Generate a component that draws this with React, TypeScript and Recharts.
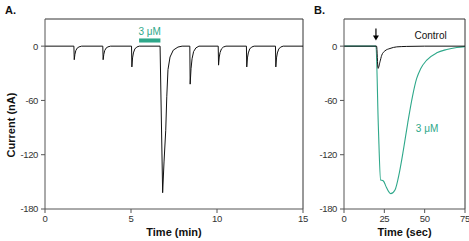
import React from 'react';
import { LineChart, Line, XAxis, YAxis, ReferenceLine, ReferenceArea, ReferenceDot, Label } from 'recharts';

// Panel A: current trace over time (min)
const timeA = [
  0, 1.68, 1.70, 1.74, 1.79, 1.87, 1.98, 2.13,
  3.36, 3.38, 3.42, 3.47, 3.55, 3.66, 3.81,
  5.03, 5.05, 5.09, 5.14, 5.22, 5.33, 5.48,
  6.69, 6.84, 6.92, 7.02, 7.08, 7.15, 7.27, 7.46, 7.73, 7.97,
  8.42, 8.44, 8.49, 8.55, 8.64, 8.77, 8.95,
  10.07, 10.09, 10.13, 10.18, 10.26, 10.37, 10.52,
  11.71, 11.73, 11.77, 11.82, 11.90, 12.01, 12.16,
  13.40, 13.42, 13.46, 13.51, 13.59, 13.70, 13.85,
  15,
];
const currentA = [
  0, 0, -15, -9, -5, -2.2, -0.8, 0,
  0, -15, -9, -5, -2.2, -0.8, 0,
  0, -23, -13, -7.5, -3.2, -1, 0,
  0, -162, -128, -93, -56, -26, -12, -4.4, -1, 0,
  0, -42, -25, -14, -6, -2, 0,
  0, -21, -12, -7, -3, -1, 0,
  0, -23, -13, -7.5, -3.2, -1, 0,
  0, -23, -13, -7.5, -3.2, -1, 0,
  0,
];
const ticksTimeA = [0, 5, 10, 15];
const ticksCurrent = [-180, -120, -60, 0];
const drugBar = { start: 5.47, end: 6.71, low: 4, high: 8.5, label: '3 μM' };

// Panel B: current trace over time (sec)
const timeControl = [0, 20.2, 21.1, 22.3, 23.4, 25.4, 28.5, 32.7, 38.9, 50, 75];
const currentControl = [0, 0, -24.6, -17.3, -10, -5.2, -2.6, -0.8, -0.3, 0, 0];
const timeDrug = [0, 19.8, 21.3, 22.7, 24.0, 24.8, 26.0, 29.0, 31.6, 34.3, 36.8, 39.5, 42.4, 45.0, 47.5, 51.3, 57.5, 63.7, 69.9, 75];
const currentDrug = [0, 0, -89, -148, -148.5, -150, -155, -163, -159, -140, -115, -85, -56, -36, -25, -15.4, -7.4, -3.7, -1.5, -0.5];
const ticksTimeB = [0, 25, 50, 75];
const arrowAt = { t: 19.8, v: 13 };
const controlLabel = { t: 53.7, v: 12, text: 'Control' };
const drugLabel = { t: 51.5, v: -91, text: '3 μM' };

const dataA = timeA.map((t, i) => ({ t, v: currentA[i] }));
const dataControl = timeControl.map((t, i) => ({ t, v: currentControl[i] }));
const dataDrug = timeDrug.map((t, i) => ({ t, v: currentDrug[i] }));

const GREEN = '#2ea88a';
const AXIS = '#555';
const tickFont = "'Liberation Sans Narrow', 'Arial Narrow', 'Liberation Sans', Arial, sans-serif";
const titleFont = "'Liberation Sans', Arial, sans-serif";
const tickStyle = { fill: '#333', fontSize: 9.5, fontFamily: tickFont, letterSpacing: -0.4 };

const Arrow = (p: any) => {
  const { cx, cy } = p;
  return (
    <g>
      <line x1={cx} y1={cy - 6} x2={cx} y2={cy + 2} stroke="#000" strokeWidth={1.2} />
      <path d={`M${cx - 3},${cy + 1} L${cx + 3},${cy + 1} L${cx},${cy + 6} Z`} fill="#000" />
    </g>
  );
};

export default function App() {
  return (
    <div style={{ position: 'absolute', left: 0, top: 0, width: 469, height: 241, background: '#fff' }}>
      <style>{'.recharts-surface{overflow:visible}'}</style>
      <div style={{ position: 'absolute', left: 0, top: 0 }}>
        <LineChart width={310} height={241} data={dataA} margin={{ top: 19, right: 7, bottom: 0, left: 10 }}>
          <XAxis
            dataKey="t"
            type="number"
            domain={[0, 15]}
            ticks={ticksTimeA}
            height={32}
            tickSize={4}
            tickMargin={2}
            stroke={AXIS}
            tick={tickStyle}
          >
            <Label value="Time (min)" position="insideBottom" offset={5} fontSize={11} fontWeight="bold" fill="#111" fontFamily={titleFont} />
          </XAxis>
          <YAxis
            type="number"
            domain={[-180, 30]}
            ticks={ticksCurrent}
            width={35}
            tickSize={4}
            tickMargin={3}
            stroke={AXIS}
            tick={tickStyle}
            interval={0}
          />
          <ReferenceLine y={30} stroke="#333" strokeWidth={1} />
          <ReferenceLine x={15} stroke="#333" strokeWidth={1} />
          <ReferenceArea
            x1={drugBar.start}
            x2={drugBar.end}
            y1={drugBar.low}
            y2={drugBar.high}
            fill={GREEN}
            fillOpacity={1}
            stroke="none"
            label={{ value: drugBar.label, position: 'top', offset: 3, fill: GREEN, fontSize: 10, fontFamily: tickFont }}
          />
          <Line type="linear" dataKey="v" stroke="#111" strokeWidth={1} dot={false} isAnimationActive={false} />
        </LineChart>
      </div>
      <div style={{ position: 'absolute', left: 310, top: 0 }}>
        <LineChart width={159} height={241} margin={{ top: 19, right: 4, bottom: 0, left: 4 }}>
          <XAxis
            dataKey="t"
            type="number"
            domain={[0, 75]}
            ticks={ticksTimeB}
            height={32}
            tickSize={4}
            tickMargin={2}
            stroke={AXIS}
            tick={tickStyle}
            interval={0}
          >
            <Label value="Time (sec)" position="insideBottom" offset={5} fontSize={11} fontWeight="bold" fill="#111" fontFamily={titleFont} />
          </XAxis>
          <YAxis
            type="number"
            domain={[-180, 30]}
            ticks={ticksCurrent}
            width={30}
            tickSize={4}
            tickMargin={3}
            stroke={AXIS}
            tick={tickStyle}
            interval={0}
          />
          <ReferenceLine y={30} stroke="#333" strokeWidth={1} />
          <ReferenceLine x={75} stroke="#333" strokeWidth={1} />
          <Line data={dataDrug} type="monotone" dataKey="v" stroke={GREEN} strokeWidth={1.1} dot={false} isAnimationActive={false} />
          <Line data={dataControl} type="monotone" dataKey="v" stroke="#111" strokeWidth={1} dot={false} isAnimationActive={false} />
          <ReferenceDot x={arrowAt.t} y={arrowAt.v} r={0} shape={Arrow} />
          <ReferenceDot
            x={controlLabel.t}
            y={controlLabel.v}
            r={0}
            fill="none"
            stroke="none"
            label={{ value: controlLabel.text, position: 'center', fill: '#111', fontSize: 10, fontFamily: tickFont }}
          />
          <ReferenceDot
            x={drugLabel.t}
            y={drugLabel.v}
            r={0}
            fill="none"
            stroke="none"
            label={{ value: drugLabel.text, position: 'center', fill: GREEN, fontSize: 10, fontFamily: tickFont }}
          />
        </LineChart>
      </div>
      <svg width={469} height={241} style={{ position: 'absolute', left: 0, top: 0, pointerEvents: 'none' }}>
        <text x={5} y={14} fontSize={11} fontWeight="bold" fontFamily={titleFont} fill="#111">A.</text>
        <text x={314} y={14} fontSize={11} fontWeight="bold" fontFamily={titleFont} fill="#111">B.</text>
        <text
          x={15}
          y={125}
          transform="rotate(-90 15 125)"
          textAnchor="middle"
          fontSize={11}
          fontWeight="bold"
          fontFamily={titleFont}
          fill="#111"
        >
          Current (nA)
        </text>
      </svg>
    </div>
  );
}
